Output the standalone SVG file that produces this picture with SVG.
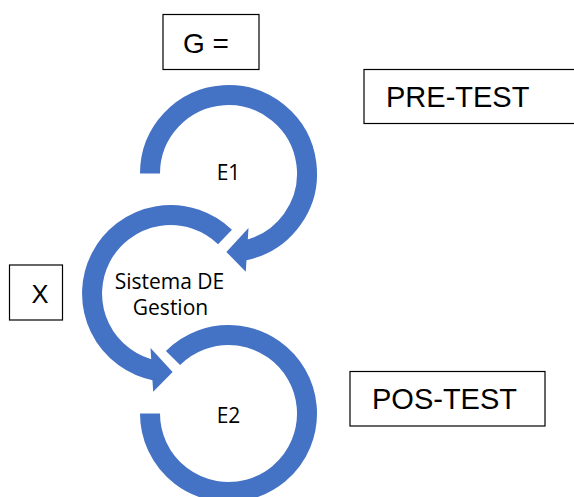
<svg xmlns="http://www.w3.org/2000/svg" width="574" height="497" viewBox="0 0 574 497">
  <style>
    .ring { fill: none; stroke: #4472C4; stroke-width: 20; stroke-linecap: butt; }
    .head { fill: #4472C4; stroke: none; }
    .box { fill: #FFFFFF; stroke: #000000; stroke-width: 1.2; }
    .boxtxt { font-family: "Liberation Sans", Arial, sans-serif; fill: #000000; }
    .ringtxt { font-family: "Open Sans", "Noto Sans", sans-serif; font-size: 21px; fill: #000000; text-anchor: middle; }
  </style>
  <rect width="574" height="497" fill="#FFFFFF"/>

  <!-- Stage E1: clockwise ring ending in an arrow toward the management system -->
  <g id="e1">
    <path class="ring" d="M 150 173.5 A 78.5 78.5 0 1 1 243.5 250.6"/>
    <polygon class="head" points="248.5,227.9 226.4,252.0 245.8,271.7"/>
    <text class="ringtxt" x="228.5" y="180">E1</text>
  </g>

  <!-- Management system: counter-clockwise ring ending in an arrow toward E2 -->
  <g id="sistema">
    <path class="ring" d="M 225.0 237.0 A 78.5 78.5 0 1 0 155.5 370.6"/>
    <polygon class="head" points="150.5,347.9 172.6,372.0 153.2,391.7"/>
    <text class="ringtxt" x="169.5" y="288.5">Sistema DE</text>
    <text class="ringtxt" x="170.5" y="315">Gestion</text>
  </g>

  <!-- Stage E2: open ring, no arrowhead -->
  <g id="e2">
    <path class="ring" d="M 173.0 358.0 A 78.5 78.5 0 1 1 150 413.5"/>
    <text class="ringtxt" x="228.5" y="422.5">E2</text>
  </g>

  <!-- Label boxes -->
  <g id="g-box">
    <rect class="box" x="163" y="14.5" width="96" height="55"/>
    <text class="boxtxt" x="183" y="52.5" font-size="28">G =</text>
  </g>
  <g id="pre-test">
    <rect class="box" x="364" y="69.5" width="215" height="54"/>
    <text class="boxtxt" x="386" y="106.5" font-size="29">PRE-TEST</text>
  </g>
  <g id="x-box">
    <rect class="box" x="9.5" y="265" width="53" height="55"/>
    <text class="boxtxt" x="31.5" y="302.5" font-size="25.5">X</text>
  </g>
  <g id="pos-test">
    <rect class="box" x="350" y="371.5" width="195" height="54.5"/>
    <text class="boxtxt" x="372" y="408.5" font-size="29">POS-TEST</text>
  </g>

  <g id="connectors"/>
</svg>
